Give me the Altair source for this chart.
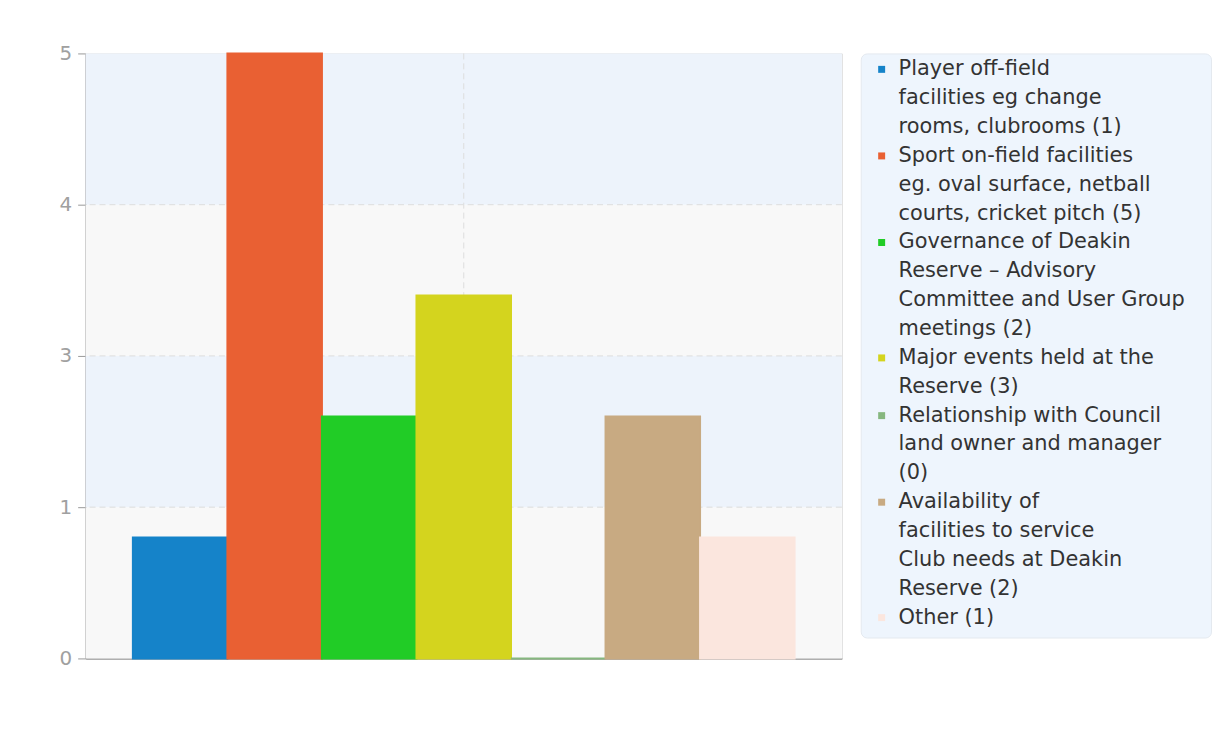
import re
import altair as alt
import pandas as pd

# ---------------- data ----------------
legend_lines = [
    ["Player off-field", "facilities eg change", "rooms, clubrooms (1)"],
    ["Sport on-field facilities", "eg. oval surface, netball", "courts, cricket pitch (5)"],
    ["Governance of Deakin", "Reserve \u2013 Advisory", "Committee and User Group", "meetings (2)"],
    ["Major events held at the", "Reserve (3)"],
    ["Relationship with Council", "land owner and manager", "(0)"],
    ["Availability of", "facilities to service", "Club needs at Deakin", "Reserve (2)"],
    ["Other (1)"],
]
values = [1, 5, 2, 3, 0, 2, 1]
colors = ["#1583c9", "#e96033", "#21cc26", "#d4d41e", "#86b77f", "#c8aa82", "#fbe6de"]
y_ticks = [0, 1.25, 2.5, 3.75, 5]

categories = [re.sub(r"\s*\(\d+\)$", "", " ".join(l)) for l in legend_lines]

bars_df = pd.DataFrame({"cat": categories, "value": values})
bands_df = pd.DataFrame({
    "lo": y_ticks[:-1],
    "hi": y_ticks[1:],
    "kind": ["a" if i % 2 == 0 else "b" for i in range(len(y_ticks) - 1)],
})
grid_df = pd.DataFrame({"g": y_ticks[1:-1]})
vrule_df = pd.DataFrame({"cat": [categories[3]]})

rows = []
r = 0
for cat, lines in zip(categories, legend_lines):
    for j, line in enumerate(lines):
        rows.append({"cat": cat, "line": line, "row": r, "first": j == 0})
        r += 1
leg_df = pd.DataFrame(rows)

# ---------------- main chart ----------------
W, H = 760, 608
color_scale = alt.Scale(domain=categories, range=colors)
x_scale = alt.Scale(domain=categories, paddingInner=0, paddingOuter=0.5)
y_scale = alt.Scale(domain=[0, 5], nice=False, zero=True)
y_axis = alt.Axis(values=y_ticks, format=".0f", grid=False, title=None,
                  labelColor="#a0a0a0", labelFontSize=20, labelFont="DejaVu Sans",
                  tickColor="#999999", tickSize=8, domainColor="#999999",
                  domainWidth=1.5, labelPadding=6, minExtent=30, maxExtent=30)
x_axis = alt.Axis(labels=False, ticks=False, title=None, grid=False,
                  domainColor="#999999", domainWidth=1.5)

bands = alt.Chart(bands_df).mark_rect().encode(
    y=alt.Y("lo:Q", scale=y_scale, axis=y_axis),
    y2="hi:Q",
    fill=alt.Fill("kind:N", scale=alt.Scale(domain=["a", "b"], range=["#f8f8f8", "#edf3fb"]), legend=None),
)

grid = alt.Chart(grid_df).mark_rule(color="#dddddd", strokeDash=[6, 4], strokeWidth=1).encode(
    y=alt.Y("g:Q", scale=y_scale)
)

vrule = alt.Chart(vrule_df).mark_rule(color="#dddddd", strokeDash=[6, 4], strokeWidth=1).encode(
    x=alt.X("cat:N", sort=categories, scale=x_scale, axis=x_axis)
)

bars = alt.Chart(bars_df).mark_bar(strokeWidth=2).encode(
    x=alt.X("cat:N", sort=categories, scale=x_scale, axis=x_axis),
    y=alt.Y("value:Q", scale=y_scale),
    color=alt.Color("cat:N", scale=color_scale, legend=None),
    stroke=alt.Stroke("cat:N", scale=color_scale, legend=None),
)

main = alt.layer(bands, grid, vrule, bars).properties(
    width=W, height=H,
    view=alt.ViewBackground(stroke="#dddddd", strokeWidth=1),
)

# ---------------- legend (drawn as a view) ----------------
LW, LH = 352, 587
row_px = 29
first_px = 16
d0 = -first_px / row_px
d1 = d0 + LH / row_px
ly = alt.Scale(domain=[d0, d1], reverse=True)

leg_text = alt.Chart(leg_df).mark_text(
    align="left", baseline="middle", font="DejaVu Sans", fontSize=21, color="#333333"
).encode(
    x=alt.value(38),
    y=alt.Y("row:Q", scale=ly, axis=None),
    text="line:N",
)

leg_sym = alt.Chart(leg_df).transform_filter("datum.first").mark_square(size=49, opacity=1).encode(
    x=alt.value(21),
    y=alt.Y("row:Q", scale=ly, axis=None),
    color=alt.Color("cat:N", scale=color_scale, legend=None),
)

legend = alt.layer(leg_sym, leg_text).properties(
    width=LW, height=LH,
    view=alt.ViewBackground(fill="#eef5fd", cornerRadius=6, stroke="#e4e9ef", strokeWidth=1),
)

chart = alt.hconcat(main, legend, spacing=17).properties(
    padding={"left": 47, "top": 33, "right": 2, "bottom": 5},
    background="white",
).configure_view(stroke="transparent")

chart.save("out.html", embed_options={"renderer": "svg", "actions": False})
